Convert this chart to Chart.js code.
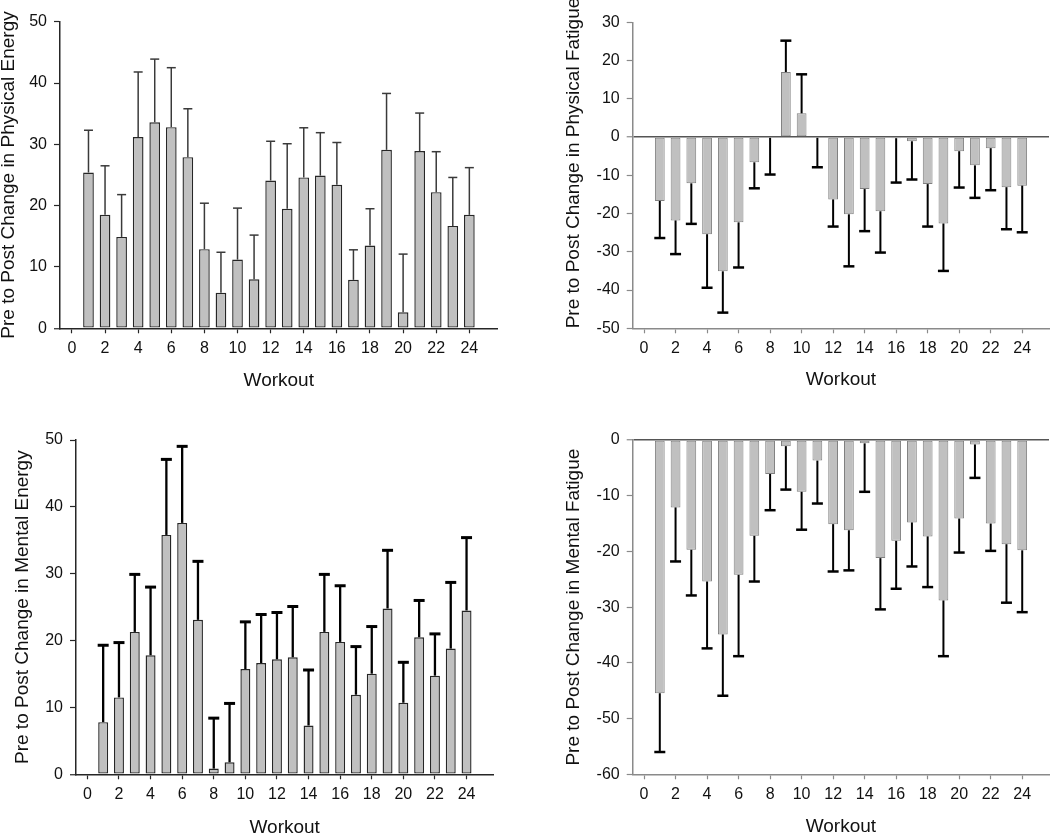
<!DOCTYPE html>
<html>
<head>
<meta charset="utf-8">
<script src="https://cdn.jsdelivr.net/npm/chart.js@4/dist/chart.umd.min.js"></script>
<style>
  html, body { margin: 0; padding: 0; background: #ffffff; width: 1050px; height: 835px; overflow: hidden; position: relative; }
  canvas { position: absolute; }
</style>
</head>
<body>
<script>
// ---------------- data ----------------
const workouts = [1,2,3,4,5,6,7,8,9,10,11,12,13,14,15,16,17,18,19,20,21,22,23,24];
const xTickValues = [0,2,4,6,8,10,12,14,16,18,20,22,24];

const physicalEnergyMean = [25.4,18.5,14.9,31.2,33.6,32.8,27.9,12.9,5.8,11.2,8.0,24.1,19.5,24.6,24.9,23.4,7.9,13.5,29.1,2.6,28.9,22.2,16.7,18.5];
const physicalEnergyErr  = [6.9,8.0,6.9,10.6,10.3,9.7,7.9,7.5,6.6,8.4,7.2,6.4,10.6,8.1,7.0,6.9,4.9,6.0,9.2,9.5,6.2,6.6,7.9,7.7];
const physicalEnergyTicks = [0,10,20,30,40,50];

const physicalFatigueMean = [-16.7,-21.8,-12.1,-25.4,-35.1,-22.3,-6.6,-0.2,17.0,6.2,-0.2,-16.3,-20.2,-13.6,-19.4,-0.3,-1.1,-12.3,-22.6,-3.7,-7.4,-2.9,-13.1,-12.7];
const physicalFatigueErr  = [9.7,8.8,10.6,14.0,10.8,11.8,6.8,9.6,8.2,10.2,7.7,7.1,13.6,11.0,10.8,11.6,10.0,11.1,12.4,9.5,8.5,11.0,11.0,12.2];
const physicalFatigueTicks = [-50,-40,-30,-20,-10,0,10,20,30];

const mentalEnergyMean = [7.8,11.5,21.3,17.8,35.8,37.6,23.1,0.85,1.8,15.75,16.65,17.2,17.5,7.3,21.3,19.8,11.9,15.05,24.8,10.7,20.5,14.75,18.8,24.5];
const mentalEnergyErr  = [11.5,8.2,8.6,10.2,11.3,11.45,8.75,7.55,8.8,7.05,7.25,7.0,7.6,8.3,8.6,8.4,7.2,7.05,8.7,6.05,5.5,6.25,9.9,10.9];
const mentalEnergyTicks = [0,10,20,30,40,50];

const mentalFatigueMean = [-45.45,-12.1,-19.7,-25.4,-34.9,-24.2,-17.2,-6.1,-1.1,-9.3,-3.7,-15.1,-16.2,-0.6,-21.2,-18.1,-14.8,-17.3,-28.8,-14.1,-0.8,-15.0,-18.7,-19.8];
const mentalFatigueErr  = [10.55,9.7,8.2,12.0,11.0,14.6,8.2,6.5,7.8,6.8,7.7,8.5,7.2,8.7,9.2,8.6,7.9,9.1,10.0,6.1,6.0,4.9,10.5,11.1];
const mentalFatigueTicks = [-60,-50,-40,-30,-20,-10,0];

const xTitle = 'Workout';

// ---------------- drawing ----------------
const FONT = '"Liberation Sans", Arial, Helvetica, sans-serif';
const TITLE_SIZE = 19;
const TICK_SIZE = 16;
const X_MIN = -0.72, X_MAX = 25.7;

const errorBarsPlugin = {
  id: 'errorBars',
  afterDatasetsDraw(chart, args, o) {
    const ctx = chart.ctx;
    const xs = chart.scales.x, ys = chart.scales.y;
    ctx.save();
    ctx.strokeStyle = o.color;
    ctx.lineCap = 'butt';
    o.means.forEach((m, i) => {
      const e = o.errors[i];
      const xp = xs.getPixelForValue(o.xs[i]);
      const y0 = ys.getPixelForValue(m);
      const y1 = ys.getPixelForValue(m >= 0 ? m + e : m - e);
      ctx.lineWidth = o.stemWidth;
      ctx.beginPath(); ctx.moveTo(xp, y0); ctx.lineTo(xp, y1); ctx.stroke();
      ctx.lineWidth = o.capWidth;
      ctx.beginPath(); ctx.moveTo(xp - o.cap / 2, y1); ctx.lineTo(xp + o.cap / 2, y1); ctx.stroke();
    });
    ctx.restore();
  }
};

function makePanel(p) {
  const half = TITLE_SIZE * 1.2 / 2;
  const leftEdge = p.yTitleX - half;
  const axisBottom = p.xTitleY + half;
  const cl = Math.floor(leftEdge);
  const ct = Math.floor(p.plotTop - 30);
  const cr = Math.ceil(p.plotRight + 22);
  const cb = Math.ceil(axisBottom + 6);
  const canvas = document.createElement('canvas');
  canvas.width = cr - cl; canvas.height = cb - ct;
  canvas.style.left = cl + 'px'; canvas.style.top = ct + 'px';
  canvas.style.width = (cr - cl) + 'px'; canvas.style.height = (cb - ct) + 'px';
  document.body.appendChild(canvas);

  new Chart(canvas.getContext('2d'), {
    type: 'bar',
    data: {
      datasets: [{
        data: workouts.map((w, i) => ({ x: w, y: p.means[i] })),
        backgroundColor: '#c0c0c0',
        borderColor: p.barBorder,
        borderWidth: p.barBorderWidth,
        borderSkipped: false,
        barPercentage: p.barPct,
        categoryPercentage: 1.0
      }]
    },
    options: {
      responsive: false,
      animation: false,
      devicePixelRatio: 1,
      layout: { padding: { left: leftEdge - cl, top: p.plotTop - ct, right: cr - p.plotRight, bottom: cb - axisBottom } },
      plugins: {
        legend: { display: false },
        tooltip: { enabled: false },
        errorBars: {
          xs: workouts, means: p.means, errors: p.errors,
          color: p.errColor, stemWidth: p.stemWidth, capWidth: p.capLineWidth, cap: p.cap
        }
      },
      scales: {
        x: {
          type: 'linear', min: X_MIN, max: X_MAX, offset: false,
          afterBuildTicks: ax => { ax.ticks = xTickValues.map(v => ({ value: v })); },
          afterFit: ax => { ax.height = axisBottom - p.plotBottom; },
          grid: { drawOnChartArea: false, drawTicks: true, tickLength: 5, tickColor: p.axisColor, tickWidth: 1.2, color: p.axisColor, offset: false },
          border: { display: true, color: p.axisColor, width: 1.5 },
          ticks: { font: { family: FONT, size: TICK_SIZE }, color: '#111', padding: 6, maxRotation: 0, autoSkip: false },
          title: { display: true, text: xTitle, font: { family: FONT, size: TITLE_SIZE }, color: '#111', padding: 0 }
        },
        y: {
          type: 'linear', min: p.yTicks[0], max: p.yTicks[p.yTicks.length - 1],
          afterBuildTicks: ax => { ax.ticks = p.yTicks.map(v => ({ value: v })); },
          afterFit: ax => { ax.width = p.plotLeft - leftEdge; },
          grid: {
            drawOnChartArea: true, drawTicks: true, tickLength: 6, tickColor: p.axisColor, tickWidth: 1.2,
            color: c => (p.zeroLine && c.tick && c.tick.value === 0) ? p.zeroColor : 'rgba(0,0,0,0)',
            lineWidth: c => (c.tick && c.tick.value === 0) ? 1.5 : 1
          },
          border: { display: true, color: p.axisColor, width: 1.5 },
          ticks: { font: { family: FONT, size: TICK_SIZE }, color: '#111', padding: 7, autoSkip: false },
          title: { display: true, text: p.yTitle, align: p.yTitleAlign, font: { family: FONT, size: TITLE_SIZE }, color: '#111', padding: 0 }
        }
      }
    },
    plugins: [errorBarsPlugin]
  });
}

makePanel({
  means: physicalEnergyMean, errors: physicalEnergyErr, yTicks: physicalEnergyTicks,
  yTitle: 'Pre to Post Change in Physical Energy', yTitleAlign: 'center',
  plotLeft: 60, plotRight: 497.5, plotTop: 21.7, plotBottom: 328.3, yTitleX: 8.3, xTitleY: 381,
  barPct: 0.645, barBorder: '#262626', barBorderWidth: 1.4,
  errColor: '#3a3a3a', stemWidth: 1.5, capLineWidth: 1.5, cap: 9,
  axisColor: '#262626', zeroLine: false, zeroColor: '#262626'
});

makePanel({
  means: physicalFatigueMean, errors: physicalFatigueErr, yTicks: physicalFatigueTicks,
  yTitle: 'Pre to Post Change in Physical Fatigue', yTitleAlign: 'start',
  plotLeft: 632.7, plotRight: 1049, plotTop: 22.3, plotBottom: 328.3, yTitleX: 573.5, xTitleY: 380,
  barPct: 0.62, barBorder: '#808080', barBorderWidth: 1,
  errColor: '#000000', stemWidth: 2, capLineWidth: 2.5, cap: 11,
  axisColor: '#8a8a8a', zeroLine: true, zeroColor: '#555555'
});

makePanel({
  means: mentalEnergyMean, errors: mentalEnergyErr, yTicks: mentalEnergyTicks,
  yTitle: 'Pre to Post Change in Mental Energy', yTitleAlign: 'center',
  plotLeft: 76, plotRight: 493.4, plotTop: 440, plotBottom: 774.3, yTitleX: 22.5, xTitleY: 827.7,
  barPct: 0.63, barBorder: '#262626', barBorderWidth: 1.4,
  errColor: '#000000', stemWidth: 2.3, capLineWidth: 3, cap: 11,
  axisColor: '#262626', zeroLine: false, zeroColor: '#262626'
});

makePanel({
  means: mentalFatigueMean, errors: mentalFatigueErr, yTicks: mentalFatigueTicks,
  yTitle: 'Pre to Post Change in Mental Fatigue', yTitleAlign: 'center',
  plotLeft: 632.7, plotRight: 1049, plotTop: 440, plotBottom: 774.3, yTitleX: 573.5, xTitleY: 827,
  barPct: 0.62, barBorder: '#808080', barBorderWidth: 1,
  errColor: '#000000', stemWidth: 2, capLineWidth: 2.5, cap: 11,
  axisColor: '#8a8a8a', zeroLine: true, zeroColor: '#555555'
});
</script>
</body>
</html>
